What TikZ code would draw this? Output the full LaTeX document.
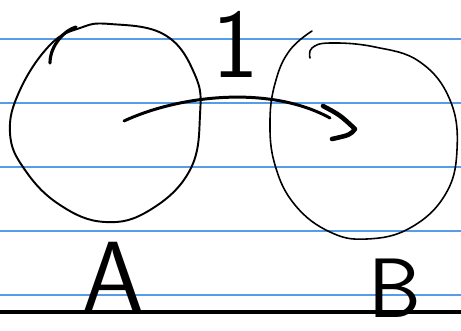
\documentclass[tikz,border=0pt]{standalone}
\usepackage{tikz}
\usetikzlibrary{arrows.meta}
\definecolor{ruleblue}{RGB}{86,156,230}

\begin{document}
\begin{tikzpicture}[x=0.02cm, y=-0.02cm, >=Stealth,
  pen/.style={line width=1.1pt, line cap=round, line join=round},
  rule/.style={line width=1.1pt, ruleblue},
  letter/.style={inner sep=0pt, font=\sffamily\fontsize{56}{56}\selectfont}]
  \useasboundingbox (0,0) rectangle (461,331);
  \foreach \y in {39,103,167,231,295}
    \draw[rule] (0,\y) -- (461,\y);
  \draw[line width=2.4pt] (0,312) -- (461,312);
  % set A
  \draw[pen] plot[smooth cycle, tension=0.7] coordinates {(110,24) (165,35)
    (195,75) (200,115) (190,170) (150,210) (105,222) (60,205) (25,170)
    (10,133) (20,90) (50,45) (80,28)};
  \draw[pen, line width=1.8pt] (50,63) .. controls (50,45) and (65,30) .. (76,27);
  % set B
  \draw[pen, line width=0.9pt] plot[smooth, tension=0.7] coordinates {(312,31)
    (290,50) (276,80) (270,120) (275,165) (295,205) (330,232) (367,239)
    (410,228) (445,195) (457,150) (450,100) (420,62) (375,47) (330,43)
    (312,48) (310,58)};
  \coordinate (a) at (124,121);
  \coordinate (b) at (330,118);
  \draw[pen, line width=1.7pt] (a) .. controls (180,95) and (270,85) .. (b);
  \draw[pen, line width=2.6pt] (323,106) .. controls (340,115) .. (355,129)
    .. controls (350,135) .. (332,139);
  \node[letter] (one) at (236,44) {1};
  \node[letter] (labA) at (113,276) {A};
  \node[letter, font=\sffamily\fontsize{48}{48}\selectfont] (labB)
    at (395,288) {B};
\end{tikzpicture}
\end{document}
